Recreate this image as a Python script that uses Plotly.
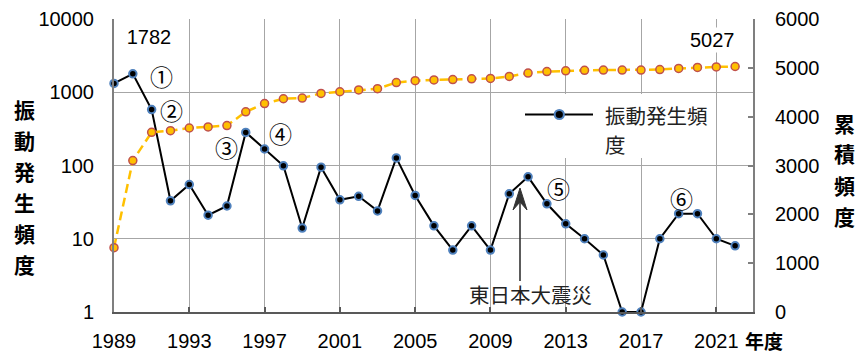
import plotly.graph_objects as go

# ---------------- data ----------------
years = list(range(1989, 2023))
freq = [1318, 1782, 580, 33, 55, 21, 28, 283, 168, 99, 14, 95, 34, 38, 24, 127, 39,
        15, 7, 15, 7, 41, 70, 30, 16, 10, 6, 0, 0, 10, 22, 22, 10, 8]
cumulative = [1318, 3100, 3680, 3713, 3768, 3789, 3817, 4100, 4268, 4367, 4381, 4476,
              4510, 4548, 4572, 4699, 4738, 4753, 4760, 4775, 4782, 4823, 4893, 4923,
              4939, 4949, 4955, 4955, 4955, 4965, 4987, 5009, 5019, 5027]
x_ticks = [1989, 1993, 1997, 2001, 2005, 2009, 2013, 2017, 2021]
left_ticks = [1, 10, 100, 1000, 10000]
left_tick_text = ["1", "10", "100", "1000", "10000"]
right_ticks = [0, 1000, 2000, 3000, 4000, 5000, 6000]
series_name = "振動発生頻度"
left_title = "振動発生頻度"
right_title = "累積頻度"
x_title = "年度"
quake_label = "東日本大震災"
circled = ["①", "②", "③", "④", "⑤", "⑥"]

# Excel-style: zero values on a log axis sit on the axis minimum
freq_plot = [v if v > 0 else left_ticks[0] for v in freq]

# ---------------- geometry helpers ----------------
W_FIG, H_FIG = 861, 355
L, R, T, B = 114, 108, 19, 43
PW = W_FIG - L - R
PH = H_FIG - T - B


def fx(p):
    return (p - L) / PW


def fy(p):
    return (H_FIG - B - p) / PH


NUM_FONT = "Liberation Sans, Arial, sans-serif"
CJK_FONT = "Noto Sans CJK JP"
GRID = "#A6A6A6"

fig = go.Figure()

fig.add_trace(go.Scatter(
    x=years, y=freq_plot, mode="lines+markers", name=series_name,
    line=dict(color="black", width=2),
    marker=dict(size=7.5, color="black", line=dict(color="#4F81BD", width=2)),
    cliponaxis=False, showlegend=False, yaxis="y"))

fig.add_trace(go.Scatter(
    x=years, y=cumulative, mode="lines+markers", name="累積頻度",
    line=dict(color="#FFC000", width=2.5, dash="9px,5px"),
    marker=dict(size=8, color="#FFC000", line=dict(color="#C0504D", width=1.5)),
    cliponaxis=False, showlegend=False, yaxis="y2"))

annotations = []


def note(px_, py_, text, font, xanchor="center", **kw):
    annotations.append(dict(x=fx(px_), y=fy(py_), xref="paper", yref="paper", text=text,
                            showarrow=False, xanchor=xanchor, yanchor="middle",
                            font=font, **kw))


num_font = dict(family=NUM_FONT, size=20, color="black")
# value labels
note(149, 37, "1782", num_font, bgcolor="white", width=64, height=38)
note(712, 40, "5027", num_font, bgcolor="white")

# circled numbers
circ_pos = [(161, 76), (171, 110), (226, 147), (280, 133), (558, 188), (681, 198)]
for txt, (cx, cy) in zip(circled, circ_pos):
    note(cx, cy, txt, dict(family=CJK_FONT, size=23, color="black"))

# earthquake label
note(530, 294, quake_label, dict(family=CJK_FONT, size=20.5, color="#222"))

bold_cjk = dict(family=CJK_FONT, size=21, color="black", weight="bold")
# vertical axis titles (one character per row)
for i, ch in enumerate(left_title):
    note(25, 109 + i * 31, ch, bold_cjk)
for i, ch in enumerate(right_title):
    note(844, 122.5 + i * 31, ch, bold_cjk)
# x title
note(764, 340, x_title, dict(family=CJK_FONT, size=19, color="black", weight="bold"))

# legend text
leg_font = dict(family=CJK_FONT, size=20.5, color="#222")
note(603, 115, series_name[:5], leg_font, xanchor="left")
note(603, 144, series_name[5:], leg_font, xanchor="left")

shapes = []
# legend box + sample
shapes.append(dict(type="rect", xref="paper", yref="paper", x0=fx(521), x1=fx(712),
                   y0=fy(158), y1=fy(94), fillcolor="white", line=dict(width=0), layer="above"))
shapes.append(dict(type="line", xref="paper", yref="paper", x0=fx(525), x1=fx(593),
                   y0=fy(114.5), y1=fy(114.5), line=dict(color="black", width=2)))
r = 4.6
shapes.append(dict(type="circle", xref="paper", yref="paper", x0=fx(559.3 - r), x1=fx(559.3 + r),
                   y0=fy(114.5 + r), y1=fy(114.5 - r), fillcolor="black",
                   line=dict(color="#4F81BD", width=2)))
# arrow
shapes.append(dict(type="line", xref="paper", yref="paper", x0=fx(520), x1=fx(520),
                   y0=fy(281), y1=fy(203), line=dict(color="#333", width=1.6)))
head = "M {} {} L {} {} L {} {} L {} {} Z".format(
    fx(520), fy(188), fx(513), fy(210), fx(520), fy(202), fx(527), fy(210))
shapes.append(dict(type="path", xref="paper", yref="paper", path=head,
                   fillcolor="#333", line=dict(color="#333", width=1)))

fig.update_layout(
    width=W_FIG, height=H_FIG,
    margin=dict(l=L, r=R, t=T, b=B, pad=0, autoexpand=False),
    paper_bgcolor="white", plot_bgcolor="white",
    showlegend=False,
    xaxis=dict(range=[1989, 2022.95], tickvals=x_ticks, showgrid=True, gridcolor=GRID,
               gridwidth=1.2, showline=True, linecolor="#595959", linewidth=2,
               ticks="inside", ticklen=5, tickcolor="#595959", tickwidth=1.5,
               tickfont=dict(family=NUM_FONT, size=20, color="black"), zeroline=False,
               ticklabelstandoff=10, automargin=False),
    yaxis=dict(type="log", range=[0, 4], tickvals=left_ticks, ticktext=left_tick_text,
               showgrid=True, gridcolor=GRID, gridwidth=1.2, showline=True,
               linecolor="#7F7F7F", linewidth=2, ticks="",
               tickfont=dict(family=NUM_FONT, size=20, color="black"), zeroline=False,
               ticklabelstandoff=14, automargin=False),
    yaxis2=dict(overlaying="y", side="right", range=[0, 6000], tickvals=right_ticks,
                showgrid=False, showline=True, linecolor="#7F7F7F", linewidth=2,
                ticks="inside", ticklen=5, tickcolor="#7F7F7F", tickwidth=1.5,
                tickfont=dict(family=NUM_FONT, size=20, color="black"), zeroline=False,
                ticklabelstandoff=16, automargin=False),
    annotations=annotations,
    shapes=shapes,
)

fig.write_html("out.html")
